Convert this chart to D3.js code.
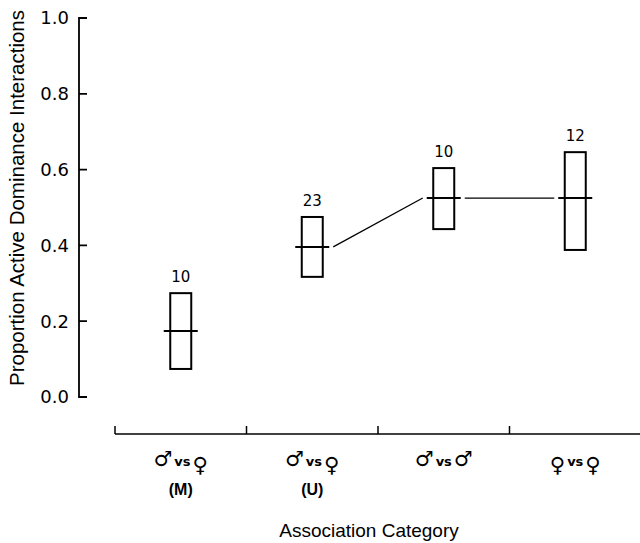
<!DOCTYPE html>
<meta charset="utf-8">
<style>
body { margin: 0; background: #fff; }
svg { display: block; }
</style>
<svg></svg>
<script src="https://cdn.jsdelivr.net/npm/d3@7"></script>
<script>

// values
var leftSex  = ['\u2642', '\u2642', '\u2642', '\u2640']
var rightSex = ['\u2640', '\u2640', '\u2642', '\u2640']
var subLabel = ['(M)', '(U)', '', '']
var nLabel   = ['10', '23', '10', '12']
var medians  = [0.174, 0.396, 0.525, 0.525]
var lows     = [0.074, 0.317, 0.443, 0.388]
var highs    = [0.274, 0.475, 0.604, 0.646]
var links    = [[1, 2], [2, 3]]
var yTicks   = [0, 0.2, 0.4, 0.6, 0.8, 1.0]

var width = 640,
    height = 543

var svg = d3.select('svg')
            .attr('width', width)
            .attr('height', height)

var x = d3.scaleBand().domain(d3.range(4)).range([115, 641])
var y = d3.scaleLinear().domain([0, 1]).range([397, 18])

var boxW = 21, medW = 34, gap = 4
var yAxisX = 79

// y axis as a path: inward corner ticks at both ends, short ticks between
var axisPath = d3.path()
axisPath.moveTo(yAxisX + 8, y(1))
axisPath.lineTo(yAxisX, y(1))
axisPath.lineTo(yAxisX, y(0))
axisPath.lineTo(yAxisX + 8, y(0))
yTicks.slice(1, -1).forEach(function (t) {
    axisPath.moveTo(yAxisX, y(t))
    axisPath.lineTo(yAxisX + 8, y(t))
})
svg.append('path')
    .attr('d', axisPath.toString())
    .attr('fill', 'none')
    .attr('stroke', '#000')
    .attr('stroke-width', 1.8)

svg.selectAll('.ylab')
    .data(yTicks)
    .enter().append('text')
    .attr('x', yAxisX - 10)
    .attr('y', (d) => y(d))
    .attr('dy', '0.36em')
    .attr('text-anchor', 'end')
    .attr('font-family', 'DejaVu Sans')
    .attr('font-size', 18)
    .text((d) => d3.format('.1f')(d))

svg.append('text')
    .attr('transform', 'translate(24,198) rotate(-90)')
    .attr('text-anchor', 'middle')
    .attr('font-family', 'Liberation Sans')
    .attr('font-size', 20.5)
    .text('Proportion Active Dominance Interactions')

// x axis: baseline with upward ticks between categories
var xAxisY = 434
svg.append('line')
    .attr('x1', x.range()[0]).attr('x2', x.range()[1])
    .attr('y1', xAxisY).attr('y2', xAxisY)
    .attr('stroke', '#000').attr('stroke-width', 1.5)
svg.selectAll('.xtick')
    .data(x.domain())
    .enter().append('line')
    .attr('x1', (d) => x(d)).attr('x2', (d) => x(d))
    .attr('y1', xAxisY).attr('y2', xAxisY - 8)
    .attr('stroke', '#000').attr('stroke-width', 1.5)

var cx = (i) => x(i) + x.bandwidth() / 2

// the female sign sits lower than the male sign in the original lettering
var drop = (s) => s === '\u2640' ? 6 : 0

var lab = svg.selectAll('.xlab')
    .data(x.domain())
    .enter().append('text')
    .attr('x', (d) => cx(d))
    .attr('y', 466)
    .attr('text-anchor', 'middle')
    .attr('font-family', 'DejaVu Sans')
    .attr('font-weight', 'bold')
lab.append('tspan').attr('font-size', 21).attr('dy', (d) => drop(leftSex[d])).text((d) => leftSex[d])
lab.append('tspan').attr('font-size', 13).attr('dx', 2).attr('dy', (d) => -drop(leftSex[d])).text('vs')
lab.append('tspan').attr('font-size', 21).attr('dx', 2).attr('dy', (d) => drop(rightSex[d])).text((d) => rightSex[d])

svg.selectAll('.xsub')
    .data(x.domain())
    .enter().append('text')
    .attr('x', (d) => cx(d))
    .attr('y', 495)
    .attr('text-anchor', 'middle')
    .attr('font-family', 'Liberation Sans')
    .attr('font-weight', 'bold')
    .attr('font-size', 16)
    .text((d) => subLabel[d])

svg.append('text')
    .attr('x', 369)
    .attr('y', 537)
    .attr('text-anchor', 'middle')
    .attr('font-family', 'Liberation Sans')
    .attr('font-size', 19)
    .text('Association Category')

// connecting lines between medians
svg.selectAll('.link')
    .data(links)
    .enter().append('line')
    .attr('x1', (d) => cx(d[0]) + medW / 2 + gap)
    .attr('y1', (d) => y(medians[d[0]]))
    .attr('x2', (d) => cx(d[1]) - medW / 2 - gap)
    .attr('y2', (d) => y(medians[d[1]]))
    .attr('stroke', '#000').attr('stroke-width', 1.3)

// boxes
svg.selectAll('.box')
    .data(x.domain())
    .enter().append('rect')
    .attr('x', (d) => cx(d) - boxW / 2)
    .attr('y', (d) => y(highs[d]))
    .attr('width', boxW)
    .attr('height', (d) => y(lows[d]) - y(highs[d]))
    .attr('fill', 'none')
    .attr('stroke', '#000').attr('stroke-width', 2)

svg.selectAll('.med')
    .data(x.domain())
    .enter().append('line')
    .attr('x1', (d) => cx(d) - medW / 2)
    .attr('x2', (d) => cx(d) + medW / 2)
    .attr('y1', (d) => y(medians[d]))
    .attr('y2', (d) => y(medians[d]))
    .attr('stroke', '#000').attr('stroke-width', 2)

svg.selectAll('.nlab')
    .data(x.domain())
    .enter().append('text')
    .attr('x', (d) => cx(d))
    .attr('y', (d) => y(highs[d]) - 11)
    .attr('text-anchor', 'middle')
    .attr('font-family', 'DejaVu Sans')
    .attr('font-size', 15)
    .text((d) => nLabel[d])
</script>
